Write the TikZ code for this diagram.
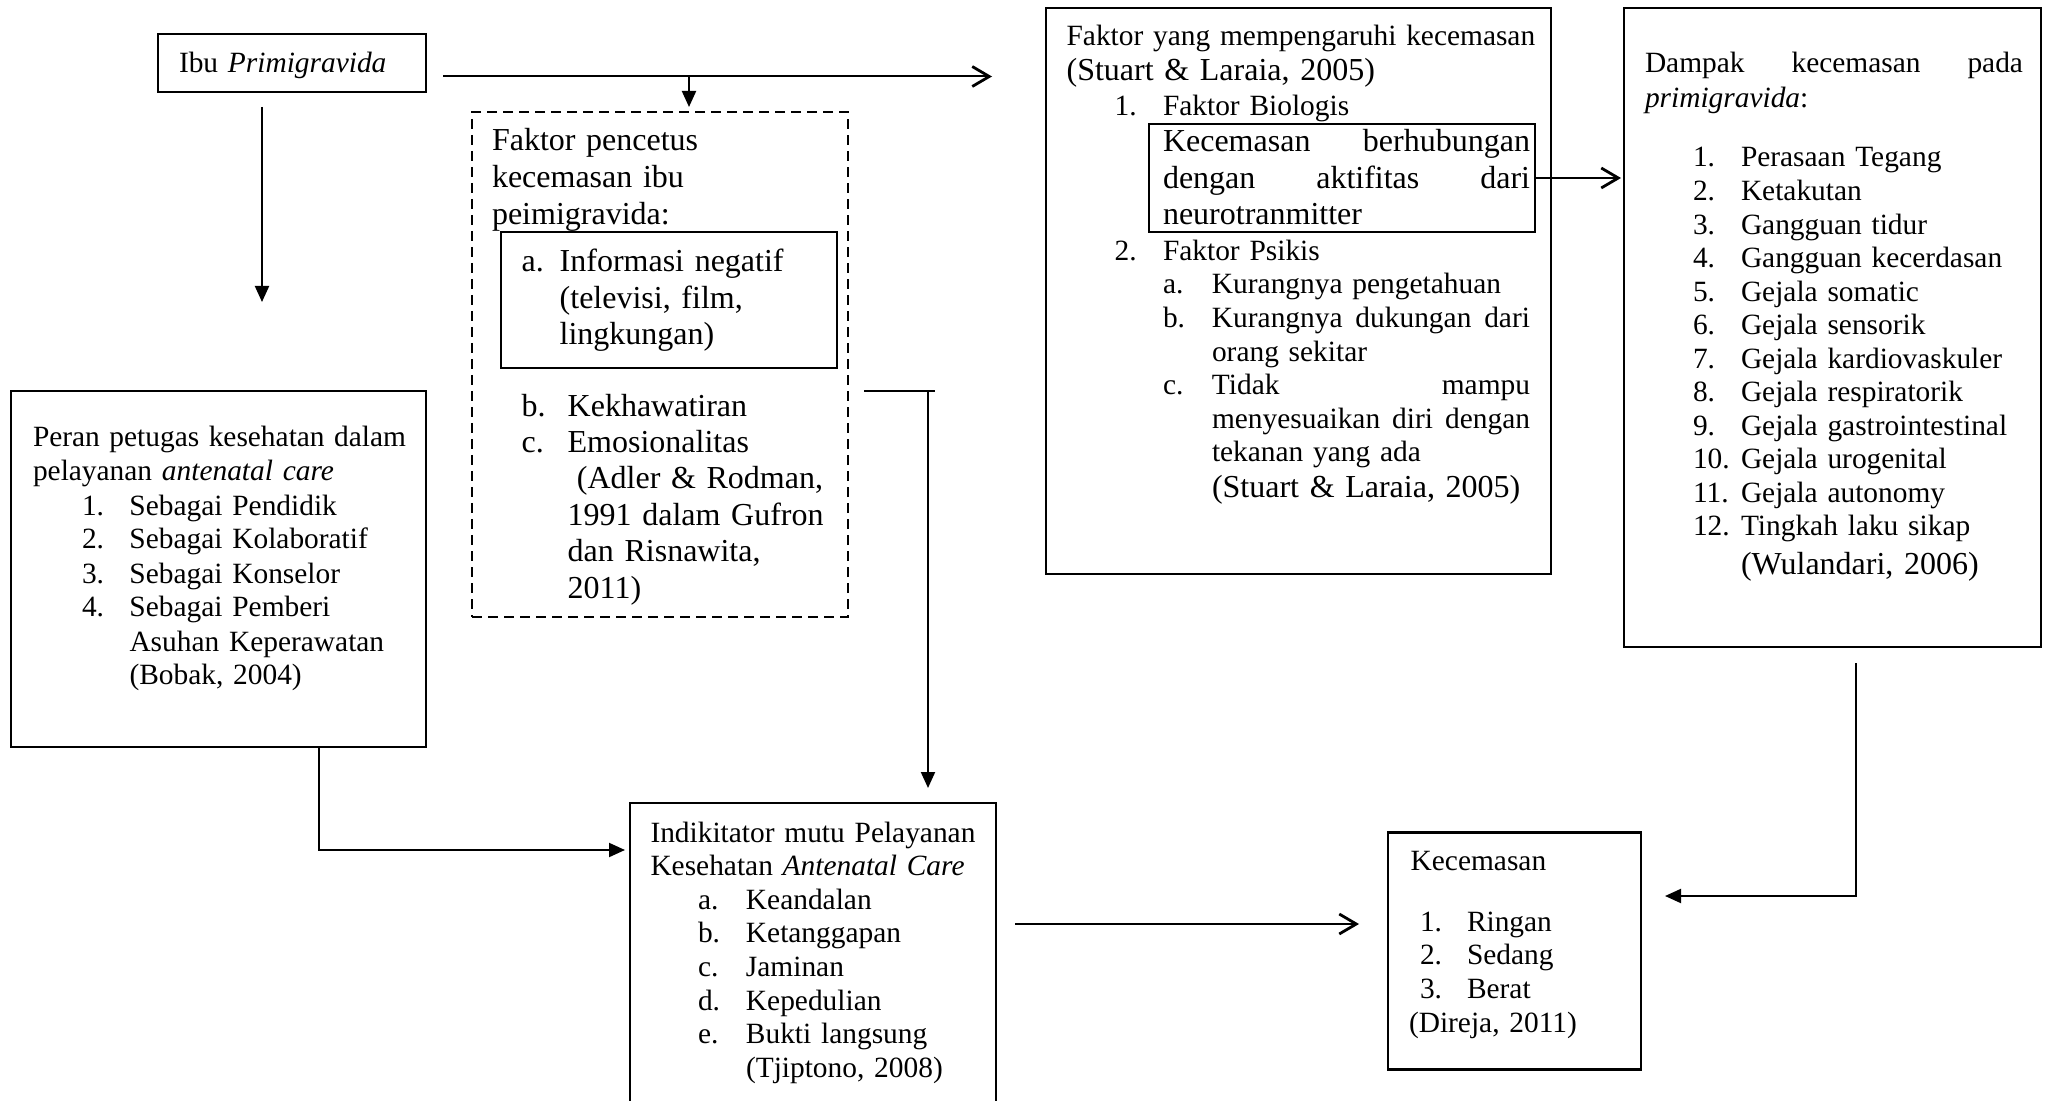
\documentclass[tikz,border=0pt]{standalone}
\usepackage{fontspec}
\setmainfont{Liberation Serif}
\usetikzlibrary{arrows.meta}
\newcommand\fsn{\fontsize{14.7pt}{17pt}\selectfont}
\newcommand\fsb{\fontsize{16pt}{18.25pt}\selectfont}
\newcommand\jus[2]{\leavevmode\hbox to #1{#2}}
\begin{document}
\begin{tikzpicture}[x=0.5pt,y=-0.5pt,
  box/.style={draw,line width=1.3pt,anchor=north west,inner sep=0pt,outer sep=0pt},
  ibox/.style={box,line width=1pt},
  dbox/.style={box,line width=1.35pt,dash pattern=on 5pt off 3pt},
  txt/.style={anchor=base west,inner sep=0pt,outer sep=0pt,align=left,text width=260pt,font=\fsn},
  big/.style={font=\fsb},
  con/.style={line width=1pt},
  fa/.style={con,-{Triangle[length=8pt,width=7pt]}},
  oa/.style={con,-{Straight Barb[length=8.5pt,width=10pt,line width=1.4pt]}}]
\useasboundingbox (0,0) rectangle (2045,1101);
\clip (0,0) rectangle (2045,1101);
% boxes
\node[box,minimum width=134pt,minimum height=29pt] (ibu) at (158,34) {};
\node[dbox,minimum width=188pt,minimum height=252.5pt] (pencetus) at (472,112) {};
\node[ibox,minimum width=168.4pt,minimum height=68pt] (info) at (500.6,232.5) {};
\node[box,minimum width=207.5pt,minimum height=178pt] (peran) at (11,391) {};
\node[box,minimum width=183pt,minimum height=160pt] (mutu) at (630,803) {};
\node[box,minimum width=252.5pt,minimum height=283pt] (faktor) at (1046,8) {};
\node[ibox,minimum width=192.75pt,minimum height=54pt] (bio) at (1149,124) {};
\node[box,minimum width=208.5pt,minimum height=319.5pt] (dampak) at (1624,8) {};
\node[box,minimum width=126.5pt,minimum height=118.3pt] (kec) at (1388,832.7) {};
% texts
\node[txt] (tibu) at (179,73) {Ibu \textit{Primigravida}};
\node[txt,font=\fontsize{16pt}{18.5pt}\selectfont] (tpen) at (492,151) {Faktor pencetus\\kecemasan ibu\\peimigravida:};
\node[txt,big] (tinfo) at (521.7,272) {\makebox[19pt][l]{a.}Informasi negatif\\\hspace*{19pt}(televisi, film,\\\hspace*{19pt}lingkungan)};
\node[txt,font=\fontsize{16pt}{18.2pt}\selectfont] (tpen2) at (521.7,416) {\makebox[23pt][l]{b.}Kekhawatiran\\\makebox[23pt][l]{c.}Emosionalitas\\\hspace*{27.6pt}(Adler \& Rodman,\\\hspace*{23pt}1991 dalam Gufron\\\hspace*{23pt}dan Risnawita,\\\hspace*{23pt}2011)};
\node[txt] (tperan) at (33,447) {\jus{186.5pt}{Peran\hfill petugas\hfill kesehatan\hfill dalam}\\pelayanan \textit{antenatal care}\\
\hspace*{24.5pt}\makebox[23.75pt][l]{1.}Sebagai Pendidik\\
\hspace*{24.5pt}\makebox[23.75pt][l]{2.}Sebagai Kolaboratif\\
\hspace*{24.5pt}\makebox[23.75pt][l]{3.}Sebagai Konselor\\
\hspace*{24.5pt}\makebox[23.75pt][l]{4.}Sebagai Pemberi\\
\hspace*{48.25pt}Asuhan Keperawatan\\
\hspace*{48.25pt}(Bobak, 2004)};
\node[txt,font=\fontsize{14.7pt}{16.8pt}\selectfont] (tmutu) at (650.5,842) {Indikitator mutu Pelayanan\\Kesehatan \textit{Antenatal Care}\\
\hspace*{23.75pt}\makebox[24pt][l]{a.}Keandalan\\
\hspace*{23.75pt}\makebox[24pt][l]{b.}Ketanggapan\\
\hspace*{23.75pt}\makebox[24pt][l]{c.}Jaminan\\
\hspace*{23.75pt}\makebox[24pt][l]{d.}Kepedulian\\
\hspace*{23.75pt}\makebox[24pt][l]{e.}Bukti langsung\\
\hspace*{47.75pt}(Tjiptono, 2008)};
\node[txt] (tf1) at (1066.6,46) {Faktor yang mempengaruhi kecemasan};
\node[txt,big] (tf2) at (1066.6,80.5) {(Stuart \& Laraia, 2005)};
\node[txt] (tf3) at (1114.6,115.3) {\makebox[24.2pt][l]{1.}Faktor Biologis};
\node[txt,font=\fontsize{16pt}{18.1pt}\selectfont] (tf4) at (1163,152) {\jus{183.5pt}{Kecemasan\hfill berhubungan}\\\jus{183.5pt}{dengan\hfill aktifitas\hfill dari}\\neurotranmitter};
\node[txt] (tf5) at (1114.6,260.5) {\makebox[24.2pt][l]{2.}Faktor Psikis};
\node[txt,font=\fontsize{14.7pt}{16.77pt}\selectfont] (tf6) at (1163,294) {\makebox[24.5pt][l]{a.}Kurangnya pengetahuan\\
\makebox[24.5pt][l]{b.}\jus{159pt}{Kurangnya\hfill dukungan\hfill dari}\\
\hspace*{24.5pt}orang sekitar\\
\makebox[24.5pt][l]{c.}\jus{159pt}{Tidak\hfill mampu}\\
\hspace*{24.5pt}\jus{159pt}{menyesuaikan\hfill diri\hfill dengan}\\
\hspace*{24.5pt}tekanan yang ada};
\node[txt,big] (tf7) at (1212,497) {(Stuart \& Laraia, 2005)};
\node[txt,font=\fontsize{14.7pt}{17.5pt}\selectfont] (td1) at (1645,73) {\jus{189pt}{Dampak\hfill kecemasan\hfill pada}\\\textit{primigravida}:};
\node[txt,font=\fontsize{14.7pt}{16.77pt}\selectfont] (td2) at (1693,167) {\makebox[24pt][l]{1.}Perasaan Tegang\\
\makebox[24pt][l]{2.}Ketakutan\\
\makebox[24pt][l]{3.}Gangguan tidur\\
\makebox[24pt][l]{4.}Gangguan kecerdasan\\
\makebox[24pt][l]{5.}Gejala somatic\\
\makebox[24pt][l]{6.}Gejala sensorik\\
\makebox[24pt][l]{7.}Gejala kardiovaskuler\\
\makebox[24pt][l]{8.}Gejala respiratorik\\
\makebox[24pt][l]{9.}Gejala gastrointestinal\\
\makebox[24pt][l]{10.}Gejala urogenital\\
\makebox[24pt][l]{11.}Gejala autonomy\\
\makebox[24pt][l]{12.}Tingkah laku sikap};
\node[txt,big] (td3) at (1741,574) {(Wulandari, 2006)};
\node[txt] (tk1) at (1410.7,870) {Kecemasan};
\node[txt,font=\fontsize{14.7pt}{16.9pt}\selectfont] (tk2) at (1420,931) {\makebox[23.5pt][l]{1.}Ringan\\\makebox[23.5pt][l]{2.}Sedang\\\makebox[23.5pt][l]{3.}Berat};
\node[txt] (tk3) at (1409,1032) {(Direja, 2011)};
% connectors
\coordinate (t0) at (443,76.5);
\coordinate (t1) at (992,76.5);
\draw[oa] (t0) -- (t1);
\coordinate (br) at (689,76.5);
\draw[fa,shorten >=2.5pt] (br) -- (br |- pencetus.north);
\coordinate (d0) at (262,107);
\coordinate (d1) at (262,302);
\draw[fa] (d0) -- (d1);
\coordinate (p0) at (319,850);
\draw[fa,shorten >=2.5pt] (p0 |- peran.south) -- (p0) -- (p0 -| mutu.west);
\coordinate (q0) at (864,391.5);
\coordinate (q1) at (935,391.5);
\draw[con] (q0) -- (q1);
\coordinate (q2) at (928,391.5);
\draw[fa,shorten >=7.5pt] (q2) -- (q2 |- mutu.north);
\draw[oa,shorten >=1.5pt] (bio.east) -- (bio.east -| dampak.west);
\coordinate (r1) at (1856,663);
\coordinate (r0) at (1856,896);
\draw[fa,shorten >=12pt] (r1) -- (r0) -- (r0 -| kec.east);
\coordinate (s0) at (1015,924);
\draw[oa,shorten >=14.5pt] (s0) -- (s0 -| kec.west);
\end{tikzpicture}
\end{document}
